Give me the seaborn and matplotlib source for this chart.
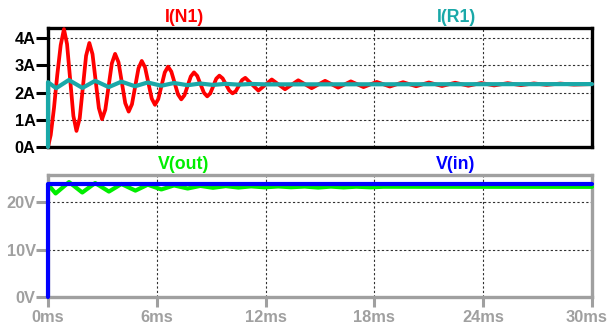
import matplotlib
matplotlib.use("Agg")
import matplotlib.pyplot as plt
import matplotlib.transforms as mtransforms
import pandas as pd
import seaborn as sns

# ----------------------------------------------------
# Data (time in ms)
# ----------------------------------------------------
t_n1 = [0, 0.15, 0.33, 0.51, 0.70, 0.88, 1.05, 1.225, 1.40, 1.57, 1.75, 1.925,
        2.10, 2.28, 2.455, 2.63, 2.805, 2.98, 3.16, 3.34, 3.52, 3.70, 3.89, 4.075,
        4.26, 4.45, 4.63, 4.81, 4.99, 5.17, 5.35, 5.535, 5.72, 5.90, 6.08, 6.26,
        6.44, 6.62, 6.80, 6.985, 7.17, 7.35, 7.525, 7.70, 7.875, 8.05, 8.23, 8.415,
        8.60, 8.78, 8.95, 9.115, 9.28, 9.45, 9.63, 9.815, 10.0, 10.18, 10.355, 10.53,
        10.705, 10.88, 11.6, 12.34, 13.07, 13.8, 14.54, 15.28, 16.0, 16.7, 17.4,
        18.13, 18.85, 19.58, 20.3, 21.0, 21.73, 22.45, 23.18, 23.9, 24.6, 25.35,
        26.08, 26.8, 27.5, 28.25, 29.0, 30.0]
i_n1 = [0, 0.44, 1.43, 2.64, 3.74, 4.33, 3.78, 2.46, 1.14, 0.59, 1.06, 2.205,
        3.35, 3.82, 3.41, 2.42, 1.43, 1.02, 1.37, 2.22, 3.07, 3.42, 3.11, 2.36,
        1.61, 1.30, 1.57, 2.23, 2.89, 3.16, 2.93, 2.355, 1.78, 1.55, 1.76, 2.25,
        2.74, 2.95, 2.77, 2.35, 1.93, 1.75, 1.90, 2.245, 2.59, 2.74, 2.61, 2.30,
        1.99, 1.86, 1.97, 2.24, 2.51, 2.62, 2.52, 2.295, 2.07, 1.97, 2.05, 2.255,
        2.46, 2.54, 2.07, 2.48, 2.12, 2.45, 2.16, 2.43, 2.18, 2.41, 2.20,
        2.39, 2.22, 2.38, 2.23, 2.37, 2.24, 2.36, 2.25, 2.35, 2.26, 2.345,
        2.27, 2.335, 2.28, 2.33, 2.29, 2.31]

t_r1 = [0, 0, 0.45, 1.15, 1.9, 2.6, 3.35, 4.05, 4.8, 5.5, 6.25, 6.95, 7.7, 8.4,
        9.1, 9.8, 10.5, 11.2, 12.0, 30]
i_r1 = [0, 2.38, 2.16, 2.46, 2.17, 2.43, 2.20, 2.40, 2.23, 2.37, 2.25, 2.35,
        2.27, 2.33, 2.28, 2.32, 2.29, 2.315, 2.30, 2.31]

t_out = [0, 0.42, 1.16, 1.89, 2.6, 3.36, 4.05, 4.82, 5.5, 6.25, 6.95, 7.7, 8.4,
         9.1, 9.8, 10.5, 11.2, 11.95, 12.7, 13.4, 14.15, 14.9, 15.6, 16.3, 17.0,
         17.8, 18.5, 30]
v_out = [23.8, 21.9, 24.3, 22.1, 24.1, 22.3, 23.9, 22.5, 23.75, 22.75, 23.6,
         22.95, 23.5, 23.1, 23.45, 23.15, 23.4, 23.2, 23.38, 23.22, 23.36, 23.15,
         23.35, 23.18, 23.33, 23.2, 23.32, 23.3]

t_in = [0, 0, 30]
v_in = [0, 24, 24]

x_ticks = [0, 6, 12, 18, 24, 30]
i_ticks = [0, 1, 2, 3, 4]
v_ticks = [0, 10, 20]

C_N1, C_R1, C_OUT, C_IN = "#ff0000", "#1aa8a8", "#00ee00", "#0000ff"
GRAY = "#a0a0a0"
FS_TICK = 11.8
FS_TITLE = 12.8

sns.set_style("white")
plt.rcParams["font.family"] = ["Liberation Sans", "DejaVu Sans"]
plt.rcParams["font.weight"] = "bold"

fig = plt.figure(figsize=(6.11, 3.33), dpi=100)
ax_i = fig.add_axes([48 / 611, 1 - 147 / 333, 544 / 611, 119 / 333])
ax_v = fig.add_axes([48 / 611, 1 - 297 / 333, 544 / 611, 122 / 333])


def trace(ax, t, y, color, lw, z):
    df = pd.DataFrame({"t": t, "y": y})
    sns.lineplot(data=df, x="t", y="y", ax=ax, color=color, lw=lw,
                 estimator=None, sort=False, legend=False)
    line = ax.get_lines()[-1]
    line.set_zorder(z)
    line.set_clip_on(False)
    line.set_solid_joinstyle("round")


def style_panel(ax, frame_color, ylim, yticks, yunit):
    ax.set_xlim(0, 30)
    ax.set_ylim(*ylim)
    ax.set_xticks(x_ticks)
    ax.set_yticks(yticks)
    ax.set_yticklabels([f"{v}{yunit}" for v in yticks])
    for sp in ax.spines.values():
        sp.set_color(frame_color)
        sp.set_linewidth(2.4)
        sp.set_visible(True)
    ax.grid(True, color="#303030", linestyle=(0, (2, 2)), linewidth=0.8)
    ax.tick_params(axis="y", direction="out", length=9, width=2.2,
                   color=frame_color, labelcolor=frame_color, pad=0,
                   labelsize=FS_TICK, left=True)
    ax.set_xlabel("")
    ax.set_ylabel("")


def title(ax, xfrac, text, color):
    ax.text(xfrac, 1.02, text, color=color, transform=ax.transAxes,
            ha="center", va="bottom", fontsize=FS_TITLE, fontweight="bold")


# top panel: currents
trace(ax_i, t_n1, i_n1, C_N1, 2.7, 4)
trace(ax_i, t_r1, i_r1, C_R1, 3.0, 5)
style_panel(ax_i, "black", (0, 4.37), i_ticks, "A")
ax_i.tick_params(axis="x", bottom=False, labelbottom=False)
title(ax_i, 0.25, "I(N1)", C_N1)
title(ax_i, 0.75, "I(R1)", C_R1)

# bottom panel: voltages
trace(ax_v, t_out, v_out, C_OUT, 3.0, 4)
trace(ax_v, t_in, v_in, C_IN, 3.0, 5)
style_panel(ax_v, GRAY, (0, 25.8), v_ticks, "V")
ax_v.set_xticklabels([f"{v}ms" for v in x_ticks])
ax_v.tick_params(axis="x", direction="out", length=7, width=2.2, color=GRAY,
                 labelcolor=GRAY, pad=2, labelsize=FS_TICK, bottom=True)
title(ax_v, 0.25, "V(out)", C_OUT)
title(ax_v, 0.75, "V(in)", C_IN)

# keep the last time label inside the canvas
last = ax_v.get_xticklabels()[-1]
last.set_transform(last.get_transform() +
                   mtransforms.ScaledTranslation(-5 / 100, 0, fig.dpi_scale_trans))

fig.savefig("out.png", dpi=100)
